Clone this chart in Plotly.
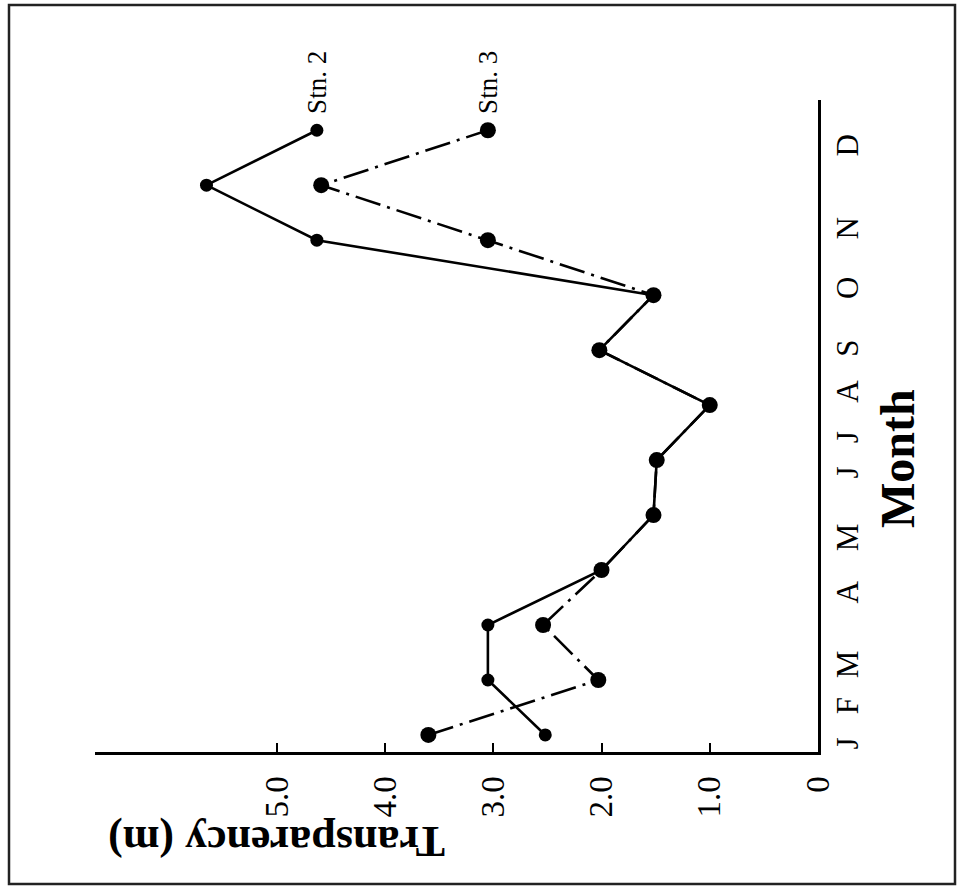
import plotly.graph_objects as go

# ---------------- data ----------------
months = ["J", "F", "M", "A", "M", "J", "J", "A", "S", "O", "N", "D"]
month_index = list(range(12))
stn2 = [2.52, 3.05, 3.05, 2.0, 1.52, 1.49, 1.0, 2.02, 1.52, 4.63, 5.65, 4.63]
stn3 = [3.6, 2.03, 2.54, 2.0, 1.52, 1.49, 1.0, 2.02, 1.52, 3.05, 4.59, 3.05]
trans_ticks = [0, 1, 2, 3, 4, 5]
trans_labels = ["0", "1.0", "2.0", "3.0", "4.0", "5.0"]

# ---------------- layout constants ----------------
W, H = 962, 887
L, R, T, B = 95, 144, 100, 135
PW, PH = W - L - R, H - T - B
# where the month letters sit along the axis (they are not evenly typed in the original)
month_label_pos = [-0.24, 0.45, 1.2, 2.51, 3.51, 4.69, 5.33, 6.16, 6.95, 8.05, 9.13, 10.64]

SERIF = "Liberation Serif, Times New Roman, serif"


def px(xp):
    return (xp - L) / PW


def py(yp):
    return (H - B - yp) / PH


fig = go.Figure()
fig.add_trace(go.Scatter(
    x=stn2, y=month_index, mode="lines+markers", name="Stn. 2",
    line=dict(color="black", width=2.6),
    marker=dict(color="black", size=13),
))
fig.add_trace(go.Scatter(
    x=stn3, y=month_index, mode="lines+markers", name="Stn. 3",
    line=dict(color="black", width=2.6, dash="26px,7px,3px,7px"),
    marker=dict(color="black", size=16),
))

fig.update_layout(
    width=W, height=H,
    margin=dict(l=L, r=R, t=T, b=B, pad=0),
    paper_bgcolor="white", plot_bgcolor="white",
    showlegend=False,
    font=dict(family=SERIF, color="black", size=32),
    xaxis=dict(
        range=[6.68, 0], tickvals=trans_ticks, ticktext=trans_labels,
        ticks="inside", ticklen=9, tickwidth=2, tickcolor="black",
        tickangle=-90, showline=True, linewidth=3, linecolor="black",
        showgrid=False, zeroline=False, ticklabelstandoff=8,
        tickfont=dict(family=SERIF, size=33),
    ),
    yaxis=dict(
        range=[-0.31, 11.55], side="right",
        tickvals=month_label_pos, ticktext=months,
        ticks="", tickangle=-90, showline=True, linewidth=3, linecolor="black",
        showgrid=False, zeroline=False, ticklabelstandoff=0,
        tickfont=dict(family=SERIF, size=31),
    ),
)

common = dict(showarrow=False, xanchor="center", yanchor="middle")
annotations = [
    dict(text="<b>Transparency (m)</b>", x=px(277), y=py(842), xref="paper", yref="paper",
         textangle=180, font=dict(family=SERIF, size=44), **common),
    dict(text="<b>Month</b>", x=px(897), y=py(459), xref="paper", yref="paper",
         textangle=-90, font=dict(family=SERIF, size=48), **common),
    dict(text="Stn. 2", x=stn2[-1], y=py(82), xref="x", yref="paper",
         textangle=-90, font=dict(family=SERIF, size=27), **common),
    dict(text="Stn. 3", x=stn3[-1], y=py(82), xref="x", yref="paper",
         textangle=-90, font=dict(family=SERIF, size=27), **common),
]
fig.update_layout(annotations=annotations)

fig.add_shape(type="rect", xref="paper", yref="paper",
              x0=px(9), x1=px(955), y0=py(884), y1=py(5),
              line=dict(color="#222", width=2.5), fillcolor="rgba(0,0,0,0)", layer="above")

fig.write_html("out.html")
